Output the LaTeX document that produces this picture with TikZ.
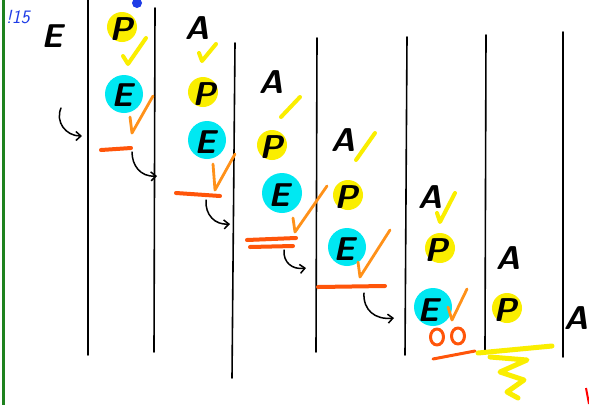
\documentclass[tikz,border=0pt]{standalone}
\usetikzlibrary{arrows.meta}
\definecolor{hlY}{RGB}{250,238,0}
\definecolor{hlC}{RGB}{0,232,242}
\definecolor{penO}{RGB}{255,145,25}
\definecolor{penR}{RGB}{255,85,10}
\definecolor{penG}{RGB}{30,130,30}
\definecolor{penB}{RGB}{30,60,230}
\tikzset{
 letter/.style={font=\fontsize{33}{33}\selectfont\sffamily\bfseries\slshape, inner sep=0pt},
 ydot/.style={fill=hlY, draw=none},
 cdot/.style={fill=hlC, draw=none},
 rule/.style={line width=1.6pt, black, line cap=round},
 ychk/.style={draw=hlY, line width=4pt, line cap=round, line join=round},
 ochk/.style={draw=penO, line width=2.8pt, line cap=round, line join=round},
 odash/.style={draw=penR, line width=4pt, line cap=round},
 hook/.style={line width=1.5pt, line cap=round, -{Straight Barb[length=5pt,width=9pt]}},
}
\begin{document}
\begin{tikzpicture}[x=1pt,y=-1pt]
\useasboundingbox (0,0) rectangle (589,405);
\fill[white] (0,0) rectangle (589,405);
\draw[penG, line width=3pt] (3,0) -- (3,405);
\node[text=penB, font=\fontsize{19}{19}\selectfont\sffamily\slshape] (note) at (18,17) {!15};
\fill[penB] (137,3) circle (5);

% column rules
\draw[rule] (88,0) -- (88,355);
\draw[rule] (155,8) -- (154,352);
\draw[rule] (235,43) -- (232,378);
\draw[rule] (317,38) -- (316,352);
\draw[rule] (407,37) -- (405,355);
\draw[rule] (486,35) -- (485,350);
\draw[rule] (563,32) -- (563,357);

% highlight circles
\fill[ydot] (122,27) circle (15);
\fill[cdot] (124,94) circle (19);
\fill[ydot] (203,92) circle (15);
\fill[cdot] (207,140) circle (19);
\fill[ydot] (272,145) circle (15);
\fill[cdot] (282,193) circle (20);
\fill[ydot] (348,195) circle (15);
\fill[cdot] (347,247) circle (19);
\fill[ydot] (440,248) circle (15);
\fill[cdot] (433,307) circle (19);
\fill[ydot] (507,308) circle (15);

% letters
\node[letter] (e0) at (52,36) {E};
\node[letter] (p1) at (121,29) {P};
\node[letter] (e1) at (122,95) {E};
\node[letter] (a2) at (197,28) {A};
\node[letter] (p2) at (204,94) {P};
\node[letter] (e2) at (205,142) {E};
\node[letter] (a3) at (271,82) {A};
\node[letter] (p3) at (271,147) {P};
\node[letter] (e3) at (279,195) {E};
\node[letter] (a4) at (343,140) {A};
\node[letter] (p4) at (346,197) {P};
\node[letter] (e4) at (344,249) {E};
\node[letter] (a5) at (430,197) {A};
\node[letter] (p5) at (436,250) {P};
\node[letter] (e5) at (428,310) {E};
\node[letter] (a6) at (508,258) {A};
\node[letter] (p6) at (505,310) {P};
\node[letter] (a7) at (576,318) {A};

% yellow checks
\draw[ychk] (123,56) -- (128,64) -- (146,38);
\draw[ychk] (199,53) -- (202,61) -- (216,44);
\draw[ychk] (281,117) -- (300,97);
\draw[ychk] (356,160) -- (375,133);
\draw[ychk] (437,213) -- (440,222) -- (455,193);

% orange checks
\draw[ochk] (130,117) -- (132,133) -- (153,96);
\draw[ochk] (213,164) -- (215,190) -- (235,154);
\draw[ochk] (293,218) -- (295,232) -- (327,186);
\draw[ochk] (358,262) -- (360,277) -- (390,230);
\draw[ochk] (448,307) -- (452,320) -- (467,289);

% orange dashes
\draw[odash] (101,150) -- (131,148);
\draw[odash] (176,193) -- (220,196);
\draw[odash] (247,240) -- (296,238);
\draw[odash] (250,247) -- (293,246);
\draw[odash] (318,287) -- (385,286);
\draw[odash, line width=3pt] (433,359) -- (475,351);
\draw[ochk, draw=penR, line width=3pt] (437,337) ellipse (6.5 and 8);
\draw[ochk, draw=penR, line width=3pt] (458,336) ellipse (6.5 and 8);

% hooks
\draw[hook] (61,108) .. controls (55,122) and (66,136) .. (82,136);
\draw[hook] (132,152) .. controls (132,165) and (140,177) .. (157,176);
\draw[hook] (206,200) .. controls (205,215) and (215,225) .. (230,224);
\draw[hook] (284,250) .. controls (283,262) and (292,270) .. (306,268);
\draw[hook] (364,293) .. controls (363,310) and (375,320) .. (394,318);

% yellow scribble
\draw[ychk, line width=5pt] (478,353) -- (552,346);
\draw[ychk, line width=5pt] (490,357) -- (527,360) -- (500,372) -- (524,380) -- (507,392) -- (518,398);

% red mark
\draw[red, line width=2pt] (586,388) -- (589,404);
\end{tikzpicture}
\end{document}
